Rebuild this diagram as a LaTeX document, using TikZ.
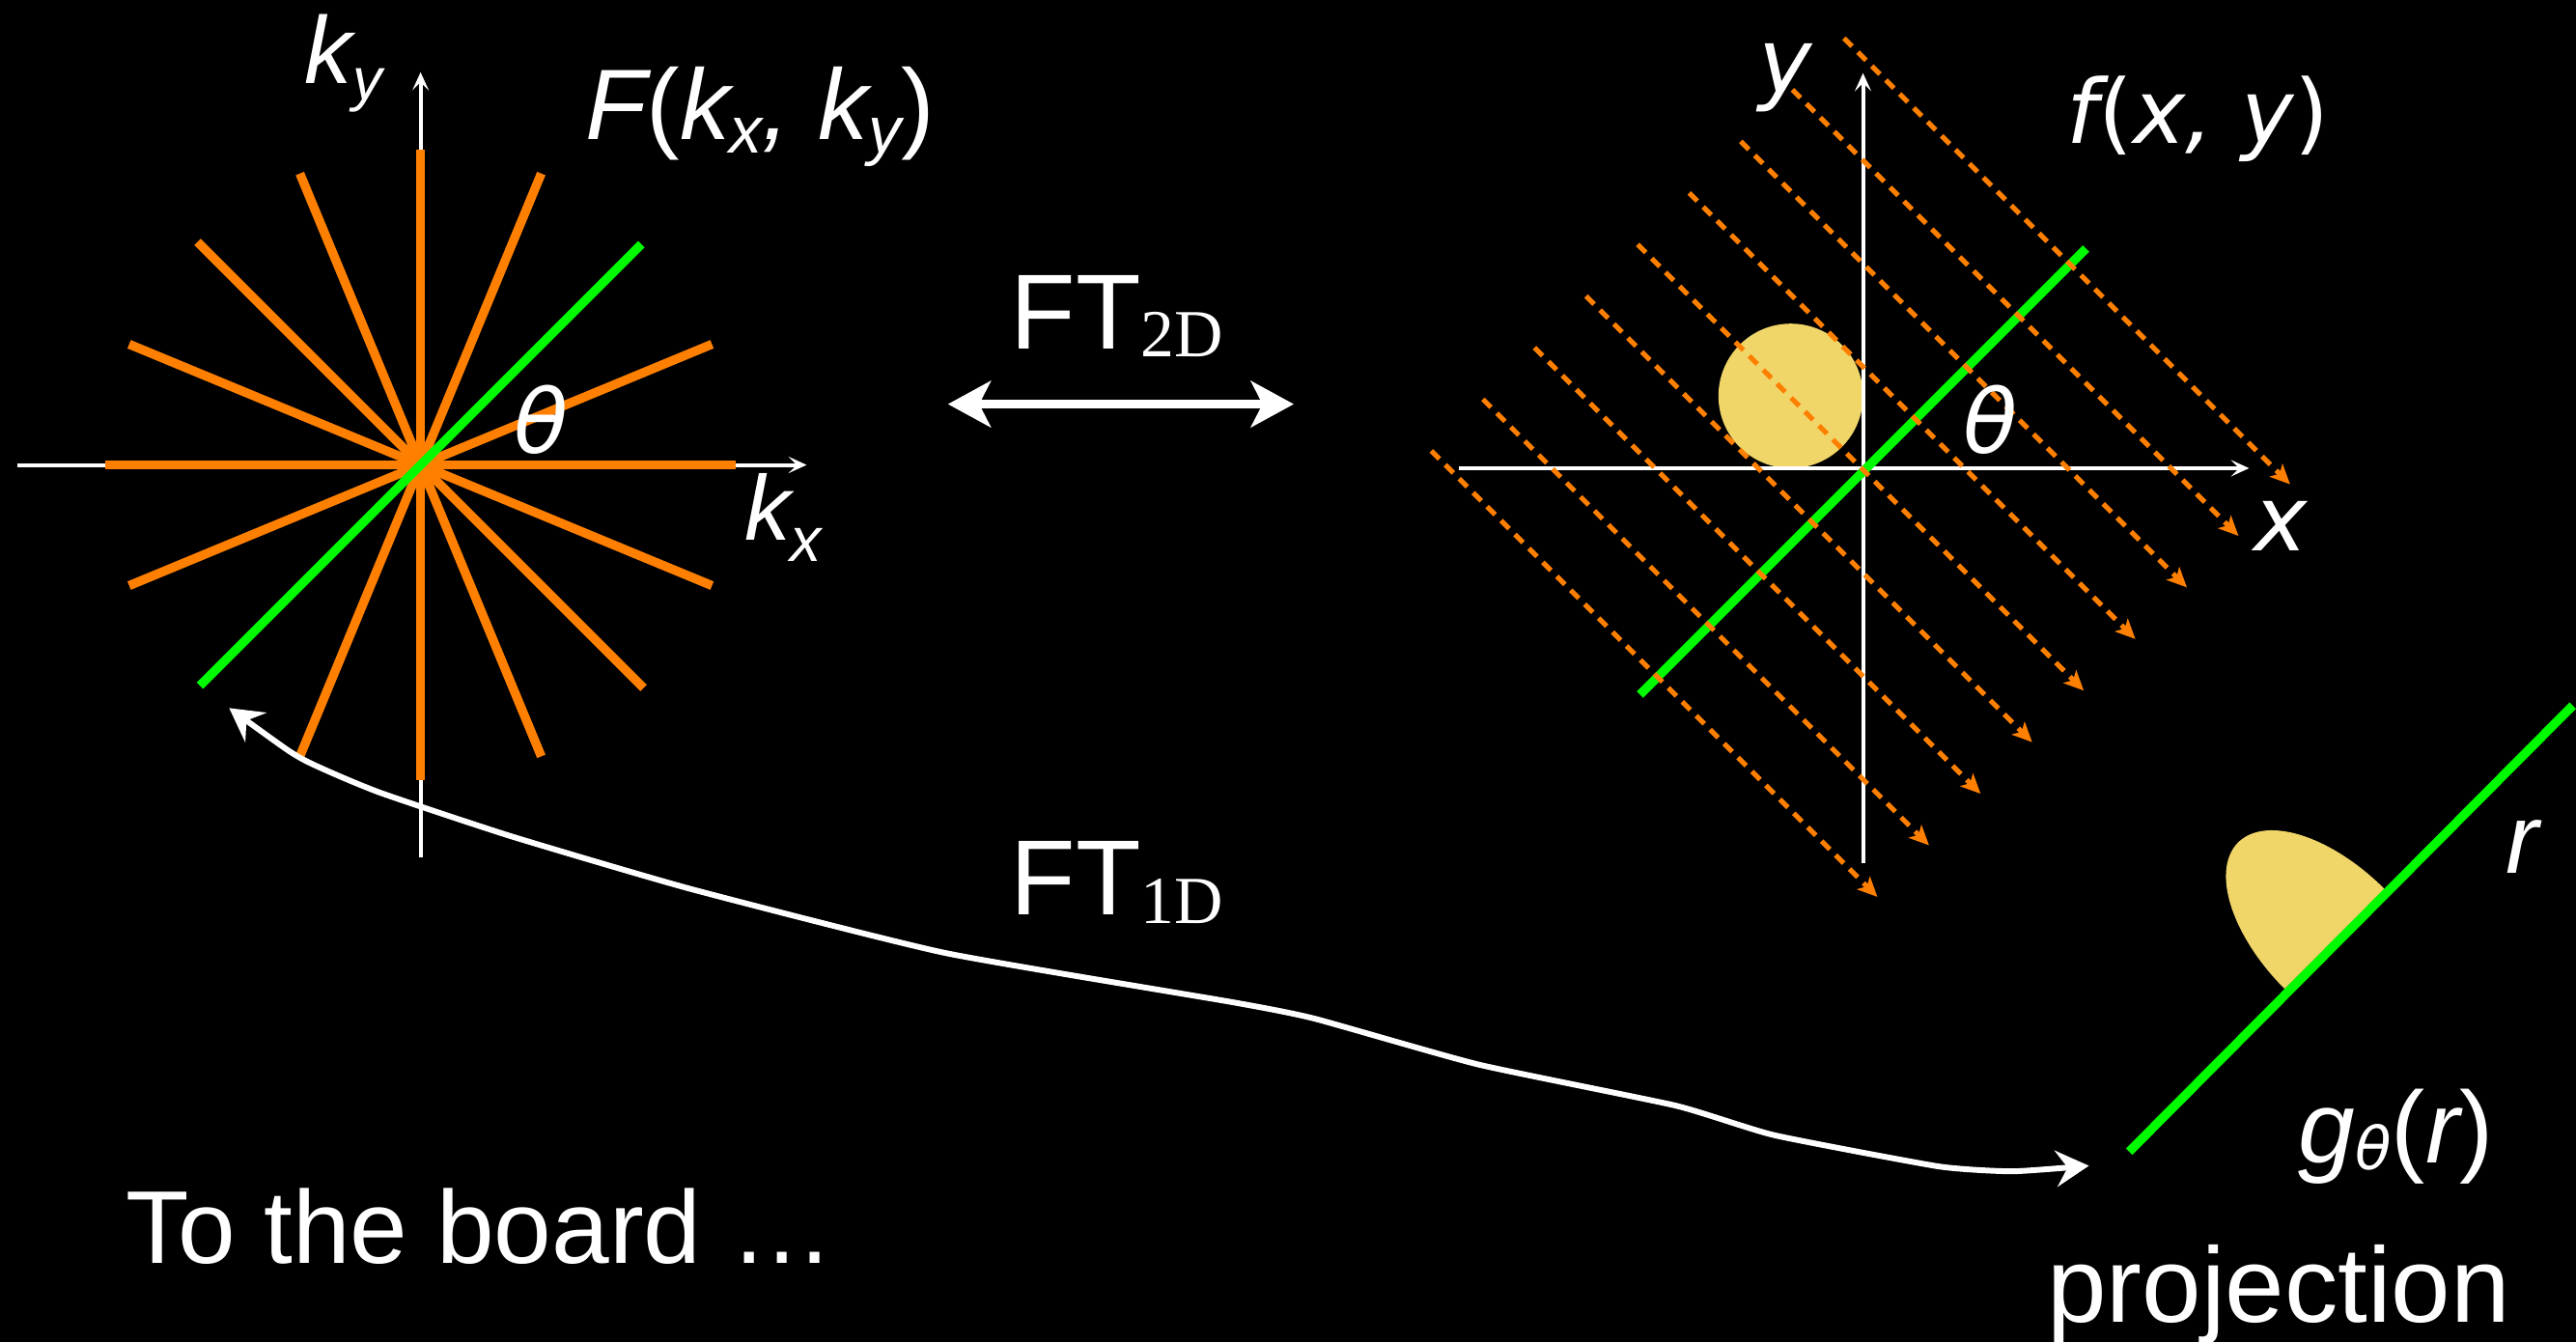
\documentclass[tikz,border=0pt]{standalone}
\usepackage{fontspec}
\setmainfont{Liberation Sans}
\newfontfamily\serifR{Liberation Serif}
\newfontfamily\dvs{DejaVu Sans}
\usetikzlibrary{arrows.meta,calc}
\newcommand\myfs[1]{\fontsize{#1}{#1}\selectfont}
\newcommand\upp[1]{{\upshape#1}}
\definecolor{ornge}{RGB}{255,128,0}
\definecolor{grn}{RGB}{0,250,0}
\definecolor{ylw}{RGB}{240,213,105}
\begin{document}
\begin{tikzpicture}[x=1pt,y=-1pt,
  lbl/.style={text=white, inner sep=0pt, anchor=base west},
  axis/.style={white, line width=2.4pt, -{Stealth[length=11pt,width=10pt,inset=5pt]}},
  spoke/.style={ornge, line width=5.5pt},
  gline/.style={grn, line width=5.5pt},
  raydash/.style={ornge, line width=3pt, dash pattern=on 7pt off 5pt, -{Stealth[length=12pt,width=11pt,inset=3pt]}},
  bigarrow/.style={white, line width=5pt, {Stealth[length=26pt,width=28pt,inset=7pt]}-{Stealth[length=26pt,width=28pt,inset=7pt]}},
  curvearrow/.style={white, line width=3.5pt, {Stealth[length=20pt,width=22pt,inset=7pt]}-{Stealth[length=20pt,width=22pt,inset=7pt]}},
  blob/.style={fill=ylw}
]
\useasboundingbox (0,0) rectangle (1568,817);
\fill[black] (0,0) rectangle (1568,817);

% ---------- left: k-space ----------
\coordinate (C) at (256,283);
\coordinate (kxL) at (10.5,283);
\coordinate (kxR) at (491,283);
\coordinate (kyB) at (256,522);
\coordinate (kyT) at (256,44);
\draw[axis] (kxL) -- (kxR);
\draw[axis] (kyB) -- (kyT);
\foreach \a in {0,22.5,45,67.5,90,112.5,157.5}
  \draw[spoke] ($(C)+(\a:192)$) -- ($(C)+(\a+180:192)$);
\draw[gline] ($(C)+(135:190)$) -- ($(C)+(-45:190)$);

\node[lbl, font=\itshape] (kylab) at (185.5,51) {\myfs{58}k\raisebox{-10pt}{\myfs{36}y}};
\node[lbl, font=\itshape] (Flab) at (356,85.2) {\myfs{61}F\upp{(}k\raisebox{-8pt}{\myfs{40}x}, k\raisebox{-8pt}{\myfs{40}y}\upp{)}};
\node[lbl, font=\itshape] (kxlab) at (453,329) {\myfs{56}k\raisebox{-13pt}{\myfs{38}x}};
\node[lbl] (thL) at (313,276) {\dvs\itshape\myfs{54}θ};

% ---------- middle ----------
\coordinate (dL) at (577,246);
\coordinate (dR) at (787.5,246);
\draw[bigarrow] (dL) -- (dR);
\node[lbl] (ft2) at (615,212.5) {\myfs{65}FT\raisebox{-4.5pt}{\serifR\myfs{41}2D}};
\node[lbl] (ft1) at (615,557) {\myfs{65}FT\raisebox{-5pt}{\serifR\myfs{41}1D}};

% ---------- right: object space ----------
\fill[blob] (1090,241) circle[radius=44];
\coordinate (xL) at (888,285);
\coordinate (xR) at (1369,285);
\coordinate (yB) at (1134,525.4);
\coordinate (yT) at (1134,44.5);
\draw[axis] (xL) -- (xR);
\draw[axis] (yB) -- (yT);
\coordinate (G) at (1134,287);
\draw[gline] ($(G)+(135:192)$) -- ($(G)+(-45:192)$);
\foreach \k in {-4,...,4}{
  \pgfmathsetmacro\sx{1134+0.7071*(44.4*\k-194)}
  \pgfmathsetmacro\sy{286+0.7071*(-44.4*\k-194)}
  \pgfmathsetmacro\ex{1134+0.7071*(44.4*\k+190)}
  \pgfmathsetmacro\ey{286+0.7071*(-44.4*\k+190)}
  \coordinate (s\k) at (\sx,\sy);
  \coordinate (e\k) at (\ex,\ey);
  \draw[raydash] (s\k) -- (e\k);
}
\node[lbl] (ylab) at (1070,56.6) {\dvs\itshape\myfs{55}y};
\node[lbl] (fxy) at (1258,87) {\dvs\itshape\myfs{54}f\upp{(}x, y\upp{)}};
\node[lbl] (thR) at (1195,276) {\dvs\itshape\myfs{54}θ};
\node[lbl] (xlab) at (1372,335) {\dvs\itshape\myfs{55}x};

% ---------- projection ----------
\coordinate (gA) at (1296,701);
\coordinate (gB) at (1566,429.5);
\fill[blob] plot[domain=0:180, samples=72, variable=\t]
  ({1421+0.7071*(43*cos(\t)-83*sin(\t))}, {571.5+0.7071*(-43*cos(\t)-83*sin(\t))}) -- cycle;
\draw[gline] (gA) -- (gB);
\node[lbl, font=\itshape] (rlab) at (1525,531.8) {\myfs{60}r};
\node[lbl, font=\itshape] (glab) at (1399,708) {\myfs{62}g\raisebox{-4pt}{\dvs\itshape\myfs{36}θ}\upp{(}r\upp{)}};
\node[lbl] (proj) at (1246,805) {\myfs{65}projection};

% ---------- FT1D curve ----------
\coordinate (cL) at (139.5,431);
\coordinate (cR) at (1271.5,709.6);
\draw[curvearrow] plot[smooth, tension=0.3] coordinates {(cL) (184,462) (230,482) (311,509) (420,541) (575,580) (750,610) (800,620) (900,648) (1020,673) (1080,691) (1180,710) (1225,713) (cR)};

\node[lbl] (board) at (76.5,768.9) {\myfs{63}To the board …};
\end{tikzpicture}
\end{document}
